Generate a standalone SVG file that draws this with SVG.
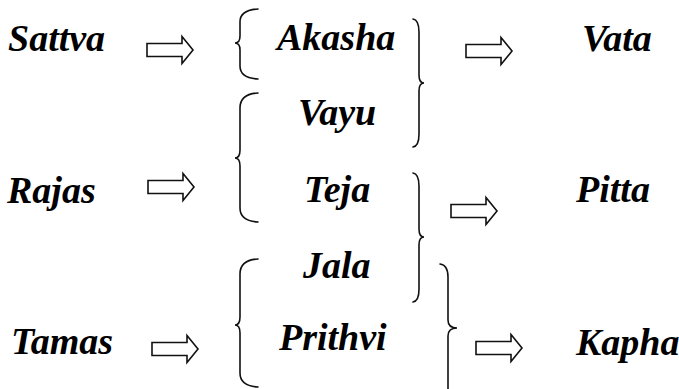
<svg xmlns="http://www.w3.org/2000/svg" width="679" height="389" viewBox="0 0 679 389">
<rect width="679" height="389" fill="#fff"/>
<g id="sattva"><text x="8" y="51" font-family="Liberation Serif" font-size="38" font-weight="bold" font-style="italic">Sattva</text></g>
<g id="rajas"><text x="7" y="203" font-family="Liberation Serif" font-size="38" font-weight="bold" font-style="italic">Rajas</text></g>
<g id="tamas"><text x="11" y="354" font-family="Liberation Serif" font-size="38" font-weight="bold" font-style="italic">Tamas</text></g>
<g id="akasha"><text x="277" y="50" font-family="Liberation Serif" font-size="38" font-weight="bold" font-style="italic">Akasha</text></g>
<g id="vayu"><text x="298" y="125" font-family="Liberation Serif" font-size="38" font-weight="bold" font-style="italic">Vayu</text></g>
<g id="teja"><text x="304" y="202" font-family="Liberation Serif" font-size="38" font-weight="bold" font-style="italic">Teja</text></g>
<g id="jala"><text x="303" y="278" font-family="Liberation Serif" font-size="38" font-weight="bold" font-style="italic">Jala</text></g>
<g id="prithvi"><text x="279" y="350" font-family="Liberation Serif" font-size="38" font-weight="bold" font-style="italic">Prithvi</text></g>
<g id="vata"><text x="582" y="51" font-family="Liberation Serif" font-size="38" font-weight="bold" font-style="italic">Vata</text></g>
<g id="pitta"><text x="576" y="202" font-family="Liberation Serif" font-size="38" font-weight="bold" font-style="italic">Pitta</text></g>
<g id="kapha"><text x="576" y="355" font-family="Liberation Serif" font-size="38" font-weight="bold" font-style="italic">Kapha</text></g>
<g id="connectors" stroke="#111" stroke-width="1.6">
<g fill="#fff" stroke-linejoin="miter">
<path transform="translate(147,50)" d="M0,-6.5 H35 V-13.5 L46,0 L35,13.5 V6.5 H0 Z"/>
<path transform="translate(148,187)" d="M0,-6.5 H35 V-13.5 L46,0 L35,13.5 V6.5 H0 Z"/>
<path transform="translate(152,349)" d="M0,-6.5 H35 V-13.5 L46,0 L35,13.5 V6.5 H0 Z"/>
<path transform="translate(466,51)" d="M0,-6.5 H35 V-13.5 L46,0 L35,13.5 V6.5 H0 Z"/>
<path transform="translate(451,211)" d="M0,-6.5 H35 V-13.5 L46,0 L35,13.5 V6.5 H0 Z"/>
<path transform="translate(476,348)" d="M0,-6.5 H35 V-13.5 L46,0 L35,13.5 V6.5 H0 Z"/>
</g>
<g fill="none" stroke-linecap="round">
<path d="M258,9 Q240,10 240,22 V36 Q240,43 235,43 Q240,43 240,50 V66 Q240,78 258,79"/>
<path d="M258,93 Q240,94 240,108 V150 Q240,158 235,158 Q240,158 240,166 V208 Q240,221 258,222"/>
<path d="M258,259 Q240,260 240,274 V317 Q240,325 235,325 Q240,325 240,333 V373 Q240,386 258,387"/>
<path d="M413,19 Q419,20 419,32 V75 Q419,83 424,83 Q419,83 419,91 V134 Q419,146 413,147"/>
<path d="M413,173 Q419,174 419,186 V229 Q419,237 424,237 Q419,237 419,245 V289 Q419,301 413,302"/>
<path d="M440,264 Q448,265 448,277 V320 Q448,328 457,328 Q448,328 448,336 V392"/>
</g>
</g>
</svg>
